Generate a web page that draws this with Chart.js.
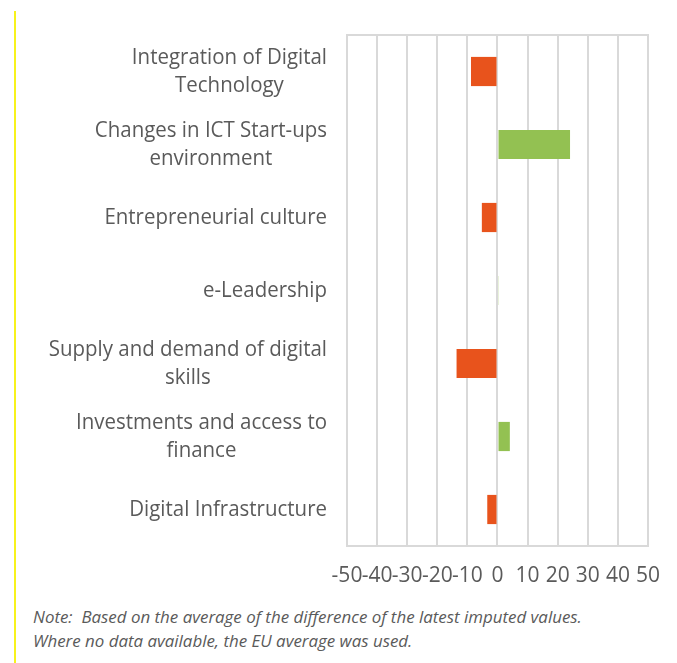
<!DOCTYPE html>
<html lang="en">
<head>
<meta charset="UTF-8">
<title>Digital entrepreneurship change</title>
<script src="https://cdn.jsdelivr.net/npm/chart.js"></script>
<style>
  html, body { margin: 0; padding: 0; background: #fff; }
  #page { position: relative; width: 677px; height: 663px; overflow: hidden; }
  #bar-line { position: absolute; left: 14px; top: 11px; width: 2px; height: 652px; background: #f7f21c; }
  #box { position: absolute; left: 0; top: 0; width: 677px; height: 600px; }
  #note {
    position: absolute; left: 33px; top: 605px;
    font-family: "Open Sans", sans-serif; font-style: italic; font-size: 16.9px;
    line-height: 24px; color: #5a5a5a; white-space: pre;
  }
</style>
</head>
<body>
<div id="page">
  <div id="bar-line"></div>
  <div id="box"><canvas id="myChart"></canvas></div>
  <div id="note">Note:  Based on the average of the difference of the latest imputed values.
Where no data available, the EU average was used.</div>
</div>
<script>
// categories, top to bottom (each entry = lines of the label)
const categories = [
    ["Integration of Digital", "Technology"],
    ["Changes in ICT Start-ups", "environment"],
    ["Entrepreneurial culture"],
    ["e-Leadership"],
    ["Supply and demand of digital", "skills"],
    ["Investments and access to", "finance"],
    ["Digital Infrastructure"]
];
// change values
const changes = [-8.8, 24.1, -5.2, 0.4, -13.6, 4.1, -3.4];
// x axis range
const xMin = -50, xMax = 50, xStep = 10;

const RED = "#e8531c";
const GREEN = "#93c152";
const TEXT = "#5a5a5a";

// draws the frame round the plot and the category labels (block right-aligned, lines centred)
const framePlugin = {
    id: "frameAndLabels",
    afterDraw(chart) {
        const c = chart.ctx;
        const a = chart.chartArea;
        c.save();
        c.strokeStyle = "#d9d9d9";
        c.lineWidth = 2;
        c.strokeRect(a.left, a.top, a.right - a.left, a.bottom - a.top);

        const yScale = chart.scales.y;
        c.font = "22px 'Open Sans'";
        c.fillStyle = TEXT;
        c.textAlign = "center";
        c.textBaseline = "middle";
        const squeeze = 0.93;
        const rightEdge = 327;
        const lineH = 28;
        categories.forEach((lines, i) => {
            const y = yScale.getPixelForTick(i);
            const widest = Math.max(...lines.map(t => c.measureText(t).width)) * squeeze;
            const cx = rightEdge - widest / 2;
            lines.forEach((t, k) => {
                const ly = y + (k - (lines.length - 1) / 2) * lineH;
                c.save();
                c.translate(cx, ly);
                c.scale(squeeze, 1);
                c.fillText(t, 0, 0);
                c.restore();
            });
        });
        c.restore();
    }
};

const ctx = document.querySelector("#myChart");
const changeChart = new Chart(ctx, {
    type: "bar",
    data: {
        labels: categories,
        datasets: [{
            data: changes,
            backgroundColor: (ctx) => ctx.raw < 0 ? RED : GREEN,
            borderWidth: 0,
            categoryPercentage: 0.8,
            barPercentage: 0.5
        }]
    },
    options: {
        indexAxis: "y",
        responsive: true,
        maintainAspectRatio: false,
        animation: false,
        layout: { padding: { top: 35, right: 22, left: 0, bottom: 0 } },
        plugins: {
            legend: { display: false },
            tooltip: { enabled: false }
        },
        scales: {
            x: {
                min: xMin,
                max: xMax,
                afterFit: (s) => { s.height = 54; },
                grid: { color: "#d9d9d9", lineWidth: 2, drawTicks: false },
                border: { display: false },
                ticks: {
                    stepSize: xStep,
                    autoSkip: false,
                    maxRotation: 0,
                    minRotation: 0,
                    padding: 17,
                    color: TEXT,
                    font: { family: "Open Sans", size: 21 }
                }
            },
            y: {
                afterFit: (s) => { s.width = 347; },
                grid: { display: false },
                border: { display: false },
                ticks: { display: false }
            }
        }
    },
    plugins: [framePlugin]
});
</script>
</body>
</html>
